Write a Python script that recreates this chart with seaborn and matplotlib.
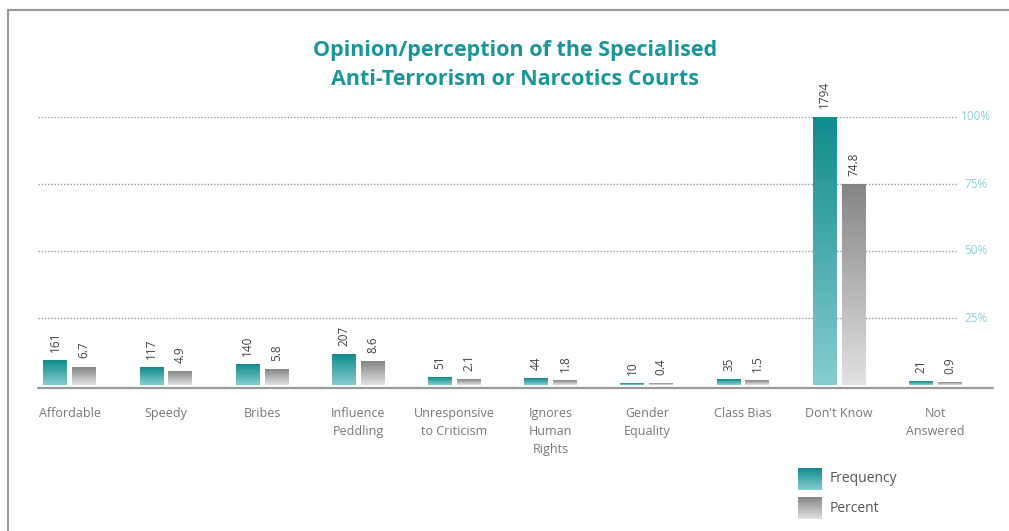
import numpy as np
import pandas as pd
import matplotlib.pyplot as plt
import matplotlib as mpl
from matplotlib.colors import LinearSegmentedColormap
from matplotlib.lines import Line2D
import seaborn as sns

# Data
categories = ['Affordable', 'Speedy', 'Bribes', 'Influence\nPeddling',
              'Unresponsive\nto Criticism', 'Ignores\nHuman\nRights',
              'Gender\nEquality', 'Class Bias', "Don't Know", 'Not\nAnswered']
frequency = [161, 117, 140, 207, 51, 44, 10, 35, 1794, 21]
percent = [6.7, 4.9, 5.8, 8.6, 2.1, 1.8, 0.4, 1.5, 74.8, 0.9]
pct_ticks = [25, 50, 75, 100]

# frequency bars are drawn against the largest count (= 100%)
freq_scaled = [f / max(frequency) * 100 for f in frequency]

df = pd.DataFrame({
    'category': categories * 2,
    'series': ['Frequency'] * len(categories) + ['Percent'] * len(categories),
    'height': freq_scaled + percent,
})

sns.set_style('white')
plt.rcParams['font.family'] = ['Open Sans', 'DejaVu Sans']

teal_cmap = LinearSegmentedColormap.from_list('teal', ['#86cdd0', '#0e8b8d'])
grey_cmap = LinearSegmentedColormap.from_list('grey', ['#e2e2e2', '#858586'])

fig = plt.figure(figsize=(10.09, 5.31), dpi=100)
ax = fig.add_axes([38 / 1009, 1 - 385 / 531, (993 - 38) / 1009, (385 - 117) / 531])

sns.barplot(data=df, x='category', y='height', hue='series',
            palette=['#0e8b8d', '#858586'], width=0.6, gap=0.17,
            legend=False, ax=ax, zorder=3)

# gradient fills on top of the seaborn bars
grad = np.linspace(0, 1, 256).reshape(-1, 1)
for cont, cmap in zip(ax.containers, [teal_cmap, grey_cmap]):
    for bar in cont:
        x0, y0 = bar.get_x(), bar.get_y()
        w, h = bar.get_width(), bar.get_height()
        ax.imshow(grad, extent=[x0, x0 + w, y0, y0 + h], origin='lower',
                  aspect='auto', cmap=cmap, zorder=4)
        bar.set_alpha(0)

# value labels
for cont, labels in zip(ax.containers, [frequency, percent]):
    for bar, lab in zip(cont, labels):
        ax.text(bar.get_x() + bar.get_width() / 2, bar.get_height() + 3.2, str(lab),
                rotation=90, ha='center', va='bottom', fontsize=8.5,
                color='#444444', clip_on=False, zorder=5)

ax.set_xlim(-0.33, 9.6)
ax.set_ylim(0, 100)

# dotted reference lines with right-hand percent labels
for p in pct_ticks:
    ax.axhline(p, xmin=0, xmax=0.962, color='#9a9a9a', lw=1,
               linestyle=(0, (1, 1.3)), zorder=1)
    ax.text(0.982, p, f'{p}%', transform=mpl.transforms.blended_transform_factory(ax.transAxes, ax.transData),
            ha='center', va='center', fontsize=8.5, color='#8fd0d5')
ax.axhline(-1.2, color='#9a9a9a', lw=1.6, clip_on=False, zorder=2)

ax.set_yticks([])
ax.set_xlabel('')
ax.set_ylabel('')
ax.tick_params(axis='x', length=0, pad=16, labelsize=9, labelcolor='#777777')
for t in ax.get_xticklabels():
    t.set_linespacing(1.5)
sns.despine(ax=ax, left=True, bottom=True)

fig.text(0.51, 0.877, 'Opinion/perception of the Specialised\nAnti-Terrorism or Narcotics Courts',
         ha='center', va='center', fontsize=15.5, fontweight='bold',
         color='#16979a', linespacing=1.5)

# legend with gradient swatches
for i, (name, cmap) in enumerate([('Frequency', teal_cmap), ('Percent', grey_cmap)]):
    top = 468 + i * 29
    lax = fig.add_axes([798 / 1009, 1 - (top + 22) / 531, 24 / 1009, 22 / 531])
    lax.imshow(grad, origin='lower', aspect='auto', cmap=cmap)
    lax.axis('off')
    fig.text(830 / 1009, 1 - (top + 11) / 531, name, ha='left', va='center',
             fontsize=10, color='#555555')

# page frame (top and left edge)
fig.add_artist(Line2D([8 / 1009, 1], [1 - 10 / 531] * 2, color='#999999', lw=1.5))
fig.add_artist(Line2D([8 / 1009] * 2, [0, 1 - 10 / 531], color='#999999', lw=1.5))

fig.savefig('out.png', dpi=100)
